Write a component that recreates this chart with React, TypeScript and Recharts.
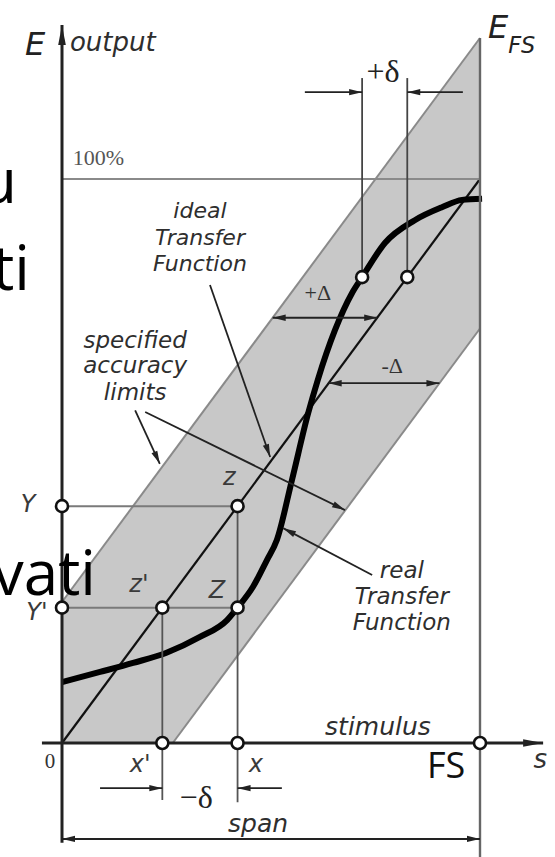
import React from 'react';
import { ComposedChart, Area, Line, XAxis, YAxis, ReferenceLine, ReferenceDot } from 'recharts';

// Stimulus s in % of full scale (FS = 100), output E in % of E_FS (100% = 100).

// accuracy band: lower / upper limits along the stimulus
const bandS = [0, 26.5, 100];
const bandLow = [0, 0, 73.5];
const bandHigh = [25, 51.5, 125];

// ideal transfer function E = s
const idealS = [0, 100];
const idealE = [0, 100];

// real transfer function (S-shaped)
const realS = [0, 9.1, 17, 25, 33, 39.5, 42, 45.7, 49, 51.4, 55, 58.9, 61.2, 65.3, 69.4, 71.8, 77.3, 84.4, 90.9, 95.7, 100.5];
const realE = [10.8, 12.6, 14.2, 16.0, 18.8, 21.8, 24.0, 27.7, 32.4, 36.0, 46.6, 58.5, 64.4, 73.2, 79.8, 82.6, 88.7, 92.7, 95.0, 96.3, 96.5];

// marked operating points
const xPrime = 24; // x'
const xVal = 42; // x
const yPrime = 24; // Y'
const yVal = 42; // Y
const topE = 82.6; // level of the +delta pair
const topReal = 71.8;
const topIdeal = 82.6;
const plusDeltaE = 75.4;
const minusDeltaE = 63.8;

const bandData = bandS.map((s, i) => ({ s, band: [bandLow[i], bandHigh[i]] }));
const idealData = idealS.map((s, i) => ({ s, e: idealE[i] }));
const realData = realS.map((s, i) => ({ s, e: realE[i] }));
const upperEdge = [
  { s: bandS[0], e: bandHigh[0] },
  { s: bandS[2], e: bandHigh[2] },
];
const lowerEdge = [
  { s: bandS[1], e: bandLow[1] },
  { s: bandS[2], e: bandLow[2] },
];

const W = 555;
const H = 857;
const X_DOMAIN: [number, number] = [-14.833, 117.943];
const Y_DOMAIN: [number, number] = [-20.21, 131.74];

const ITALIC = '"DejaVu Sans", sans-serif';
const SERIF = '"Liberation Serif", serif';
const SLIDE = '"Open Sans", sans-serif';

type ArrowOpts = { color?: string; width?: number; start?: boolean; end?: boolean; len?: number; half?: number };

const arrowShape = (o: ArrowOpts) => (p: any) => {
  const x1 = Number(p.x1), y1 = Number(p.y1), x2 = Number(p.x2), y2 = Number(p.y2);
  const color = o.color ?? '#222';
  const len = o.len ?? 13;
  const half = o.half ?? 3.2;
  const head = (tx: number, ty: number, fx: number, fy: number, key: string) => {
    const dx = tx - fx, dy = ty - fy;
    const d = Math.hypot(dx, dy) || 1;
    const ux = dx / d, uy = dy / d;
    const bx = tx - ux * len, by = ty - uy * len;
    return (
      <polygon
        key={key}
        points={`${tx},${ty} ${bx - uy * half},${by + ux * half} ${bx + uy * half},${by - ux * half}`}
        fill={color}
      />
    );
  };
  return (
    <g>
      <line x1={x1} y1={y1} x2={x2} y2={y2} stroke={color} strokeWidth={o.width ?? 1.8} />
      {o.end ? head(x2, y2, x1, y1, 'e') : null}
      {o.start ? head(x1, y1, x2, y2, 's') : null}
    </g>
  );
};

const plainShape = (color: string, width: number) => (p: any) => (
  <line x1={p.x1} y1={p.y1} x2={p.x2} y2={p.y2} stroke={color} strokeWidth={width} />
);

type Seg = { from: [number, number]; to: [number, number]; shape: (p: any) => React.ReactElement };

const GUIDE = '#7a7a7a';

const segments: Seg[] = [
  // 100% level and full-scale line
  { from: [0, 100], to: [100, 100], shape: plainShape('#8a8a8a', 2) },
  { from: [100, -20.2], to: [100, 125], shape: plainShape('#666', 2.4) },
  // construction lines for Y, Y', x, x'
  { from: [0, yVal], to: [xVal, yVal], shape: plainShape(GUIDE, 2) },
  { from: [0, yPrime], to: [xVal, yPrime], shape: plainShape(GUIDE, 2) },
  { from: [xPrime, yPrime], to: [xPrime, -10.1], shape: plainShape('#555', 1.8) },
  { from: [xVal, yVal], to: [xVal, -10.5], shape: plainShape('#555', 1.8) },
  { from: [topReal, topE], to: [topReal, 117.9], shape: plainShape('#444', 1.8) },
  { from: [topIdeal, topE], to: [topIdeal, 117.9], shape: plainShape('#444', 1.8) },
  // axes
  { from: [0, -17.7], to: [0, 127.3], shape: arrowShape({ color: '#222', width: 3, end: true, len: 20, half: 3.8 }) },
  { from: [-4.8, 0], to: [115.1, 0], shape: arrowShape({ color: '#222', width: 3, end: true, len: 20, half: 3.8 }) },
  // +delta / -delta dimension arrows
  { from: [58.1, 115.4], to: [topReal, 115.4], shape: arrowShape({ end: true }) },
  { from: [95.9, 115.4], to: [topIdeal, 115.4], shape: arrowShape({ end: true }) },
  { from: [9.1, -8.0], to: [xPrime, -8.0], shape: arrowShape({ end: true }) },
  { from: [52.6, -8.0], to: [xVal, -8.0], shape: arrowShape({ end: true }) },
  // span
  { from: [0, -17.0], to: [100, -17.0], shape: arrowShape({ start: true, end: true, width: 2 }) },
  // +Delta / -Delta
  { from: [plusDeltaE - bandHigh[0], plusDeltaE], to: [plusDeltaE, plusDeltaE], shape: arrowShape({ start: true, end: true }) },
  { from: [minusDeltaE, minusDeltaE], to: [minusDeltaE + bandS[1], minusDeltaE], shape: arrowShape({ start: true, end: true }) },
  // leaders
  { from: [35.4, 81.2], to: [49.8, 50.7], shape: arrowShape({ end: true }) },
  { from: [17.5, 59.0], to: [23.4, 49.5], shape: arrowShape({ end: true }) },
  { from: [19.9, 58.7], to: [67.7, 41.3], shape: arrowShape({ end: true }) },
  { from: [74.2, 29.8], to: [52.9, 38.1], shape: arrowShape({ end: true }) },
];

const circles: [number, number][] = [
  [0, yVal],
  [xVal, yVal],
  [0, yPrime],
  [xPrime, yPrime],
  [xVal, yPrime],
  [xPrime, 0],
  [xVal, 0],
  [100, 0],
  [topReal, topE],
  [topIdeal, topE],
];

type Lbl = {
  s: number;
  e: number;
  text: string;
  size: number;
  font?: string;
  italic?: boolean;
  anchor?: 'start' | 'middle' | 'end';
  fill?: string;
  sub?: string;
};

const TXT = '#2e2e2e';

const labels: Lbl[] = [
  { s: -6.46, e: 122.0, text: 'E', size: 32, italic: true, fill: '#222' },
  { s: 1.9, e: 122.7, text: 'output', size: 26, italic: true, anchor: 'start' },
  { s: 101.9, e: 125.0, text: 'E', sub: 'FS', size: 32, italic: true, anchor: 'start', fill: '#222' },
  { s: 2.6, e: 102.5, text: '100%', size: 22, font: SERIF, anchor: 'start', fill: '#555' },
  { s: 33.0, e: 93.1, text: 'ideal', size: 22, italic: true },
  { s: 33.0, e: 88.3, text: 'Transfer', size: 22, italic: true },
  { s: 33.0, e: 83.7, text: 'Function', size: 22, italic: true },
  { s: 17.5, e: 70.0, text: 'specified', size: 23, italic: true },
  { s: 17.5, e: 65.6, text: 'accuracy', size: 23, italic: true },
  { s: 17.5, e: 60.8, text: 'limits', size: 23, italic: true },
  { s: 81.3, e: 29.3, text: 'real', size: 23, italic: true },
  { s: 81.3, e: 24.6, text: 'Transfer', size: 23, italic: true },
  { s: 81.3, e: 20.0, text: 'Function', size: 23, italic: true },
  { s: 75.6, e: 1.4, text: 'stimulus', size: 25, italic: true },
  { s: 46.9, e: -15.8, text: 'span', size: 25, italic: true },
  { s: 76.8, e: 117.2, text: '+\u03b4', size: 32, font: SERIF, fill: '#222' },
  { s: 32.1, e: -11.5, text: '\u2212\u03b4', size: 32, font: SERIF, fill: '#222' },
  { s: 61.2, e: 78.5, text: '+\u0394', size: 22, font: SERIF, fill: '#333' },
  { s: 79.0, e: 65.6, text: '-\u0394', size: 22, font: SERIF, fill: '#333' },
  { s: 40.0, e: 45.7, text: 'z', size: 24, italic: true, fill: '#3a3a3a' },
  { s: 18.4, e: 26.8, text: "z'", size: 24, italic: true, fill: '#3a3a3a' },
  { s: 37.1, e: 25.7, text: 'Z', size: 24, italic: true, fill: '#3a3a3a' },
  { s: -8.1, e: 41.0, text: 'Y', size: 24, italic: true, fill: '#3a3a3a' },
  { s: -6.0, e: 21.8, text: "Y'", size: 24, italic: true, fill: '#3a3a3a' },
  { s: -2.9, e: -4.4, text: '0', size: 21, font: SERIF, fill: '#333' },
  { s: 18.7, e: -5.1, text: "x'", size: 24, italic: true, fill: '#3a3a3a' },
  { s: 46.4, e: -5.1, text: 'x', size: 24, italic: true, fill: '#3a3a3a' },
  { s: 91.9, e: -6.2, text: 'FS', size: 36, font: SLIDE, fill: '#111' },
  { s: 114.4, e: -4.4, text: 's', size: 26, italic: true, fill: '#333' },
];

const textShape = (l: Lbl) => (p: any) => (
  <text
    x={p.cx}
    y={p.cy}
    textAnchor={l.anchor ?? 'middle'}
    fontFamily={l.font ?? ITALIC}
    fontStyle={l.italic ? 'italic' : 'normal'}
    fontSize={l.size}
    fill={l.fill ?? TXT}
  >
    {l.sub ? (
      <>
        <tspan>{l.text}</tspan>
        <tspan dy={15} fontSize={l.size * 0.7}>
          {l.sub}
        </tspan>
      </>
    ) : (
      l.text
    )}
  </text>
);

const circleShape = (p: any) => <circle cx={p.cx} cy={p.cy} r={6} fill="#fff" stroke="#111" strokeWidth={2.6} />;

// slide text partly hidden behind the figure
const slideText = [
  { text: 'u', x: 17, y: 203 },
  { text: 'ti', x: 30, y: 290 },
  { text: 'vati', x: 96, y: 595 },
];

export default function App() {
  return (
    <div style={{ position: 'absolute', left: 0, top: 0, width: W, height: H, background: '#fff' }}>
      <ComposedChart width={W} height={H} margin={{ top: 0, right: 0, bottom: 0, left: 0 }}>
        <XAxis type="number" dataKey="s" domain={X_DOMAIN} allowDataOverflow hide />
        <YAxis type="number" domain={Y_DOMAIN} allowDataOverflow hide />
        <Area
          data={bandData}
          dataKey="band"
          type="linear"
          fill="#c8c8c8"
          fillOpacity={1}
          stroke="none"
          isAnimationActive={false}
          dot={false}
          activeDot={false}
        />
        <Line data={upperEdge} dataKey="e" type="linear" stroke="#8a8a8a" strokeWidth={2} dot={false} activeDot={false} isAnimationActive={false} />
        <Line data={lowerEdge} dataKey="e" type="linear" stroke="#8a8a8a" strokeWidth={2} dot={false} activeDot={false} isAnimationActive={false} />
        <Line data={idealData} dataKey="e" type="linear" stroke="#111" strokeWidth={2.2} dot={false} activeDot={false} isAnimationActive={false} />
        <Line data={realData} dataKey="e" type="monotone" stroke="#000" strokeWidth={6} dot={false} activeDot={false} isAnimationActive={false} />
        {segments.map((g, i) => (
          <ReferenceLine
            key={`seg-${i}`}
            segment={[
              { x: g.from[0], y: g.from[1] },
              { x: g.to[0], y: g.to[1] },
            ]}
            ifOverflow="visible"
            shape={g.shape}
          />
        ))}
        {circles.map((c, i) => (
          <ReferenceDot key={`pt-${i}`} x={c[0]} y={c[1]} r={6} ifOverflow="visible" shape={circleShape} />
        ))}
        {labels.map((l, i) => (
          <ReferenceDot key={`lb-${i}`} x={l.s} y={l.e} r={0} ifOverflow="visible" shape={textShape(l)} />
        ))}
      </ComposedChart>
      <svg width={W} height={H} style={{ position: 'absolute', left: 0, top: 0, pointerEvents: 'none' }}>
        {slideText.map((t) => (
          <text key={t.text} x={t.x} y={t.y} textAnchor="end" fontFamily={SLIDE} fontSize={62} fill="#000">
            {t.text}
          </text>
        ))}
      </svg>
    </div>
  );
}
